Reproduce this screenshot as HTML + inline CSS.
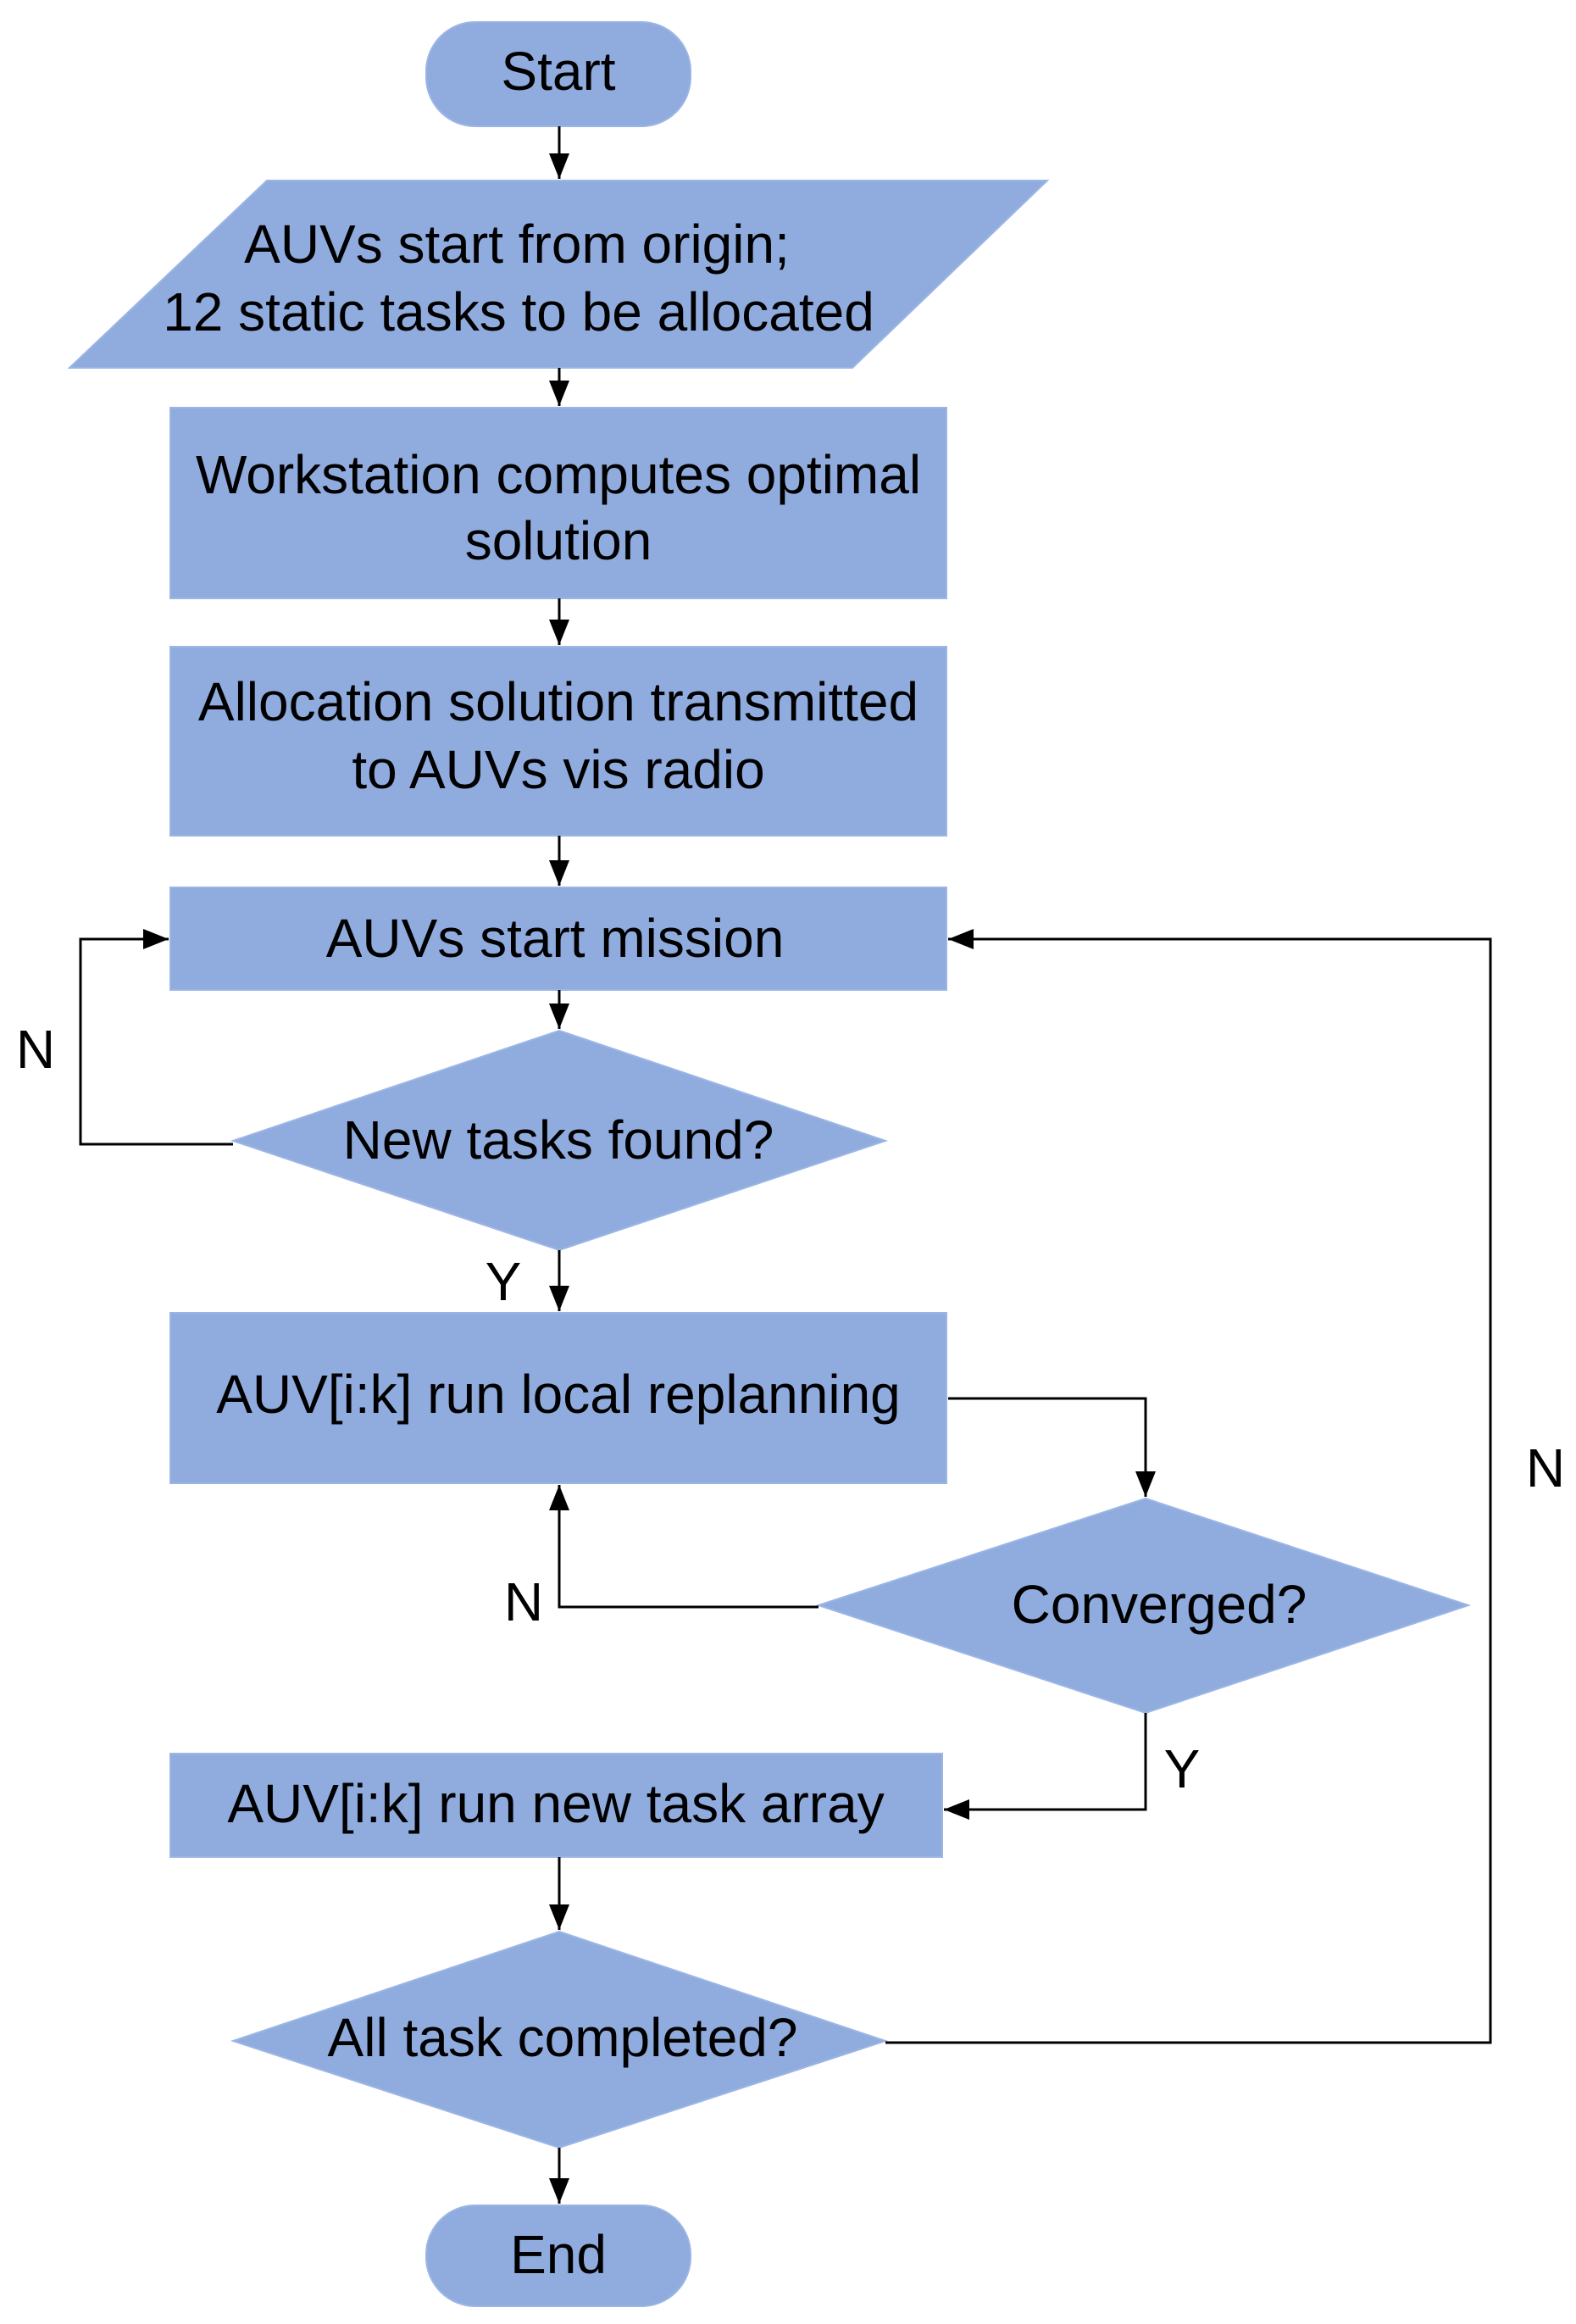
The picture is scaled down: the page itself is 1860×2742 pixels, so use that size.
<!DOCTYPE html>
<html><head><style>body{margin:0;background:#fff}svg{display:block}</style></head><body>
<svg width="1860" height="2742" viewBox="0 0 1860 2742" xmlns="http://www.w3.org/2000/svg">
<defs>
<marker id="b" markerWidth="32" markerHeight="32" refX="30" refY="16" orient="auto" markerUnits="userSpaceOnUse" viewBox="0 0 32 32"><path d="M0,4 L30,16 L0,28 z" fill="#000"/></marker></defs>
<g fill="#90acdf" stroke="#9bb5e4" stroke-width="2">
<rect x="503" y="26" width="312" height="123" rx="58"/>
<polygon points="315,213 1236,213 1006,434 82,434"/>
<rect x="201" y="481" width="916" height="225"/>
<rect x="201" y="763" width="916" height="223"/>
<rect x="201" y="1047" width="916" height="121"/>
<polygon points="660,1216 1045,1346 660,1475 275,1346"/>
<rect x="201" y="1549" width="916" height="201"/>
<polygon points="1352,1768 1733,1894 1352,2021 966,1894"/>
<rect x="201" y="2069" width="911" height="122"/>
<polygon points="660,2279 1045,2408 660,2534 275,2408"/>
<rect x="503" y="2602" width="312" height="119" rx="58"/>
</g>
<g stroke="#000" stroke-width="3" fill="none" marker-end="url(#b)">
<line x1="660" y1="149" x2="660" y2="211"/>
<line x1="660" y1="434" x2="660" y2="479"/>
<line x1="660" y1="706" x2="660" y2="761"/>
<line x1="660" y1="986" x2="660" y2="1045"/>
<line x1="660" y1="1168" x2="660" y2="1214"/>
<line x1="660" y1="1475" x2="660" y2="1547"/>
<polyline points="275,1350 95,1350 95,1108 199,1108"/>
<polyline points="1119,1650 1352,1650 1352,1766"/>
<polyline points="966,1896 660,1896 660,1752"/>
<polyline points="1352,2021 1352,2135 1114,2135"/>
<line x1="660" y1="2191" x2="660" y2="2277"/>
<polyline points="1045,2410 1759,2410 1759,1108 1119,1108"/>
<line x1="660" y1="2534" x2="660" y2="2600"/>
</g>
<g font-family="Liberation Sans, sans-serif" font-size="64" text-anchor="middle" fill="#000">
<text x="659" y="106">Start</text>
<text x="610" y="310">AUVs start from origin;</text>
<text x="612" y="390">12 static tasks to be allocated</text>
<text x="659" y="582">Workstation computes optimal</text>
<text x="659" y="660">solution</text>
<text x="659" y="850">Allocation solution transmitted</text>
<text x="659" y="930">to AUVs vis radio</text>
<text x="655" y="1129">AUVs start mission</text>
<text x="659" y="1367">New tasks found?</text>
<text x="659" y="1667">AUV[i:k] run local replanning</text>
<text x="1368" y="1915">Converged?</text>
<text x="656" y="2150">AUV[i:k] run new task array</text>
<text x="664" y="2426">All task completed?</text>
<text x="659" y="2682">End</text>
<text x="42" y="1260">N</text>
<text x="594" y="1534">Y</text>
<text x="618" y="1912">N</text>
<text x="1395" y="2109">Y</text>
<text x="1824" y="1754">N</text>
</g>
</svg>
</body></html>
